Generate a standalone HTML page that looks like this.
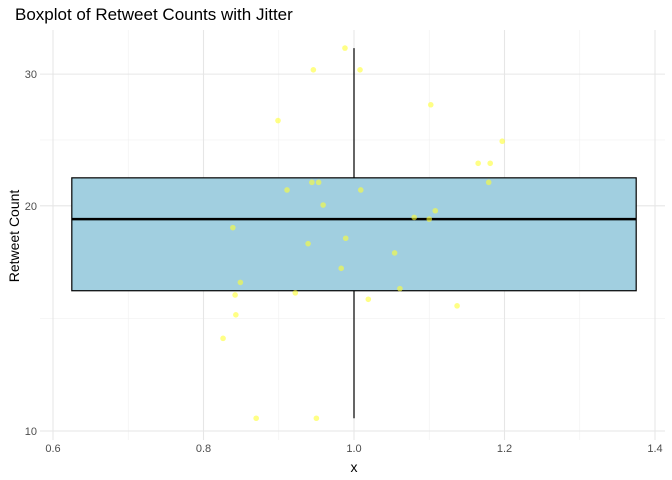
<!DOCTYPE html>
<html><head><meta charset="utf-8"><style>
body{margin:0;background:#fff}
svg{display:block;font-family:"Liberation Sans",Arial,sans-serif}
</style></head><body>
<svg width="672" height="480" viewBox="0 0 672 480">
<text x="15" y="20" font-size="17" fill="#000">Boxplot of Retweet Counts with Jitter</text>
<g id="grid"></g>
<g id="box"></g>
<g id="pts"></g>
<g id="axes"></g>
<text x="354" y="472" font-size="14" text-anchor="middle">x</text>
<text transform="translate(19,236) rotate(-90)" font-size="14" text-anchor="middle">Retweet Count</text>
</svg>
<script>
const xTicks=[0.6,0.8,1.0,1.2,1.4];
const xTickLabels=["0.6","0.8","1.0","1.2","1.4"];
const xMinor=[0.7,0.9,1.1,1.3];
const yTicks=[10,20,30];
const yTickLabels=["10","20","30"];
const yMinor=[Math.sqrt(200),Math.sqrt(600)];
const boxStats=[10.4,15.4,19.2,21.8,32.5]; // whiskerLow,q1,median,q3,whiskerHigh
const boxRange=[0.625,1.375];
const boxCenter=[1.0];
const ptX=[0.988,0.946,1.008,1.102,0.899,1.197,1.165,1.181,1.179,0.911,0.944,0.953,1.009,0.959,1.108,1.080,1.100,0.839,0.989,0.939,1.054,0.983,0.849,1.061,0.842,0.922,1.019,1.137,0.843,0.826,0.870,0.950];
const ptY=[32.5,30.4,30.4,27.3,26.0,24.4,22.8,22.8,21.5,21.0,21.5,21.5,21.0,20.05,19.7,19.3,19.2,18.7,18.1,17.8,17.3,16.5,15.8,15.5,15.2,15.3,15.0,14.7,14.3,13.3,10.4,10.4];
const NS="http://www.w3.org/2000/svg";
const sx=v=>354+(v-1)*752.5;
const sy=v=>431-(Math.log10(v)-1)*748;
const L=40,R=665,T=30,B=440;
function mk(p,tag,a){const e=document.createElementNS(NS,tag);for(const k in a)e.setAttribute(k,a[k]);p.appendChild(e);return e;}
const g=document.getElementById('grid');
xMinor.forEach(v=>{const l=mk(g,'line',{x1:sx(v),x2:sx(v),y1:T,y2:B,stroke:'#f0f0f0','stroke-width':0.6});

});
yMinor.forEach(v=>{const l=mk(g,'line',{x1:L,x2:R,y1:sy(v),y2:sy(v),stroke:'#f0f0f0','stroke-width':0.6});

});
xTicks.forEach(v=>{const l=mk(g,'line',{x1:sx(v),x2:sx(v),y1:T,y2:B,stroke:'#e6e6e6','stroke-width':1.1});

});
yTicks.forEach(v=>{const l=mk(g,'line',{x1:L,x2:R,y1:sy(v),y2:sy(v),stroke:'#e6e6e6','stroke-width':1.1});

});
const ax=document.getElementById('axes');
xTicks.forEach((v,i)=>{const t=mk(ax,'text',{x:sx(v),y:452,'font-size':11,fill:'#4d4d4d','text-anchor':'middle'});t.textContent=xTickLabels[i];

});
yTicks.forEach((v,i)=>{const t=mk(ax,'text',{x:37,y:sy(v)+4,'font-size':11,fill:'#4d4d4d','text-anchor':'end'});t.textContent=yTickLabels[i];

});
const b=document.getElementById('box');
const cx=sx(boxCenter[0]);
const w1=mk(b,'line',{x1:cx,x2:cx,y1:sy(boxStats[3]),y2:sy(boxStats[4]),stroke:'#000','stroke-width':1.2});


const w2=mk(b,'line',{x1:cx,x2:cx,y1:sy(boxStats[1]),y2:sy(boxStats[0]),stroke:'#000','stroke-width':1.2});


const r=mk(b,'rect',{x:sx(boxRange[0]),y:sy(boxStats[3]),width:sx(boxRange[1])-sx(boxRange[0]),height:sy(boxStats[1])-sy(boxStats[3]),fill:'#a1cfe0',stroke:'#000','stroke-width':1.2});


const m=mk(b,'line',{x1:sx(boxRange[0]),x2:sx(boxRange[1]),y1:sy(boxStats[2]),y2:sy(boxStats[2]),stroke:'#000','stroke-width':2.5});


const p=document.getElementById('pts');
ptX.forEach((v,i)=>{const c=mk(p,'circle',{cx:sx(v),cy:sy(ptY[i]),r:2.8,fill:'#ffff33','fill-opacity':0.6});

});
</script>
</body></html>
